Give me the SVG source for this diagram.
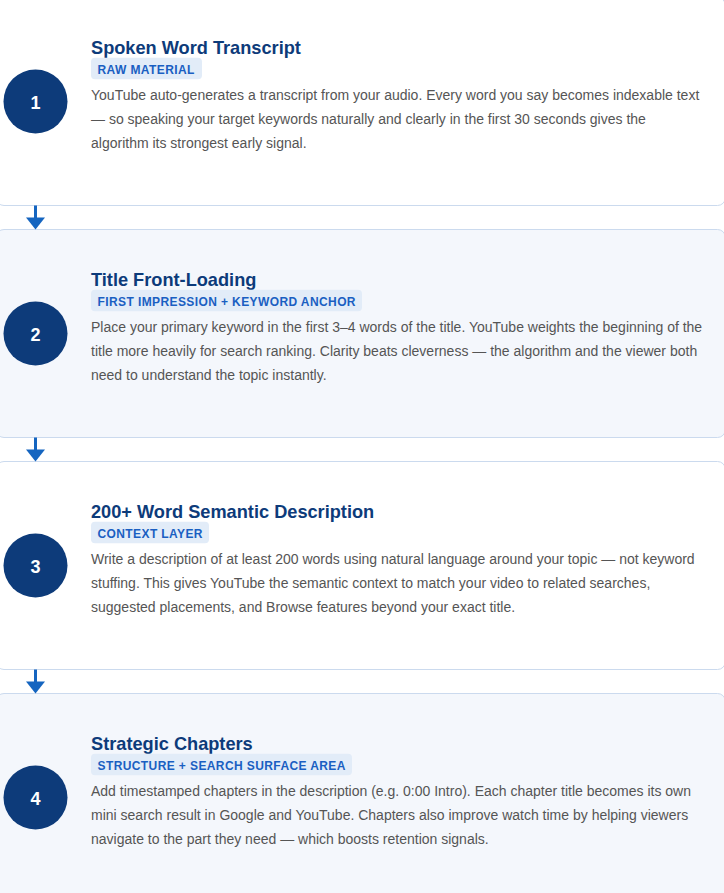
<svg xmlns="http://www.w3.org/2000/svg" width="724" height="893" viewBox="0 0 724 893">
<style>
.card{stroke:#cbdaee;stroke-width:1}
.w{fill:#ffffff}
.t{fill:#f4f7fc}
.circ{fill:#0d3b7a}
.num{font-family:"Liberation Sans",Arial,Helvetica,sans-serif;font-size:18px;font-weight:bold;fill:#ffffff;text-anchor:middle}
.title{font-family:"Liberation Sans",Arial,Helvetica,sans-serif;font-size:18.2px;font-weight:bold;fill:#0d3b7a}
.badge{fill:#e2ecf8}
.btxt{font-family:"Liberation Sans",Arial,Helvetica,sans-serif;font-size:12px;font-weight:bold;fill:#1a5fc2;letter-spacing:0.4px}
.body{font-family:"Liberation Sans",Arial,Helvetica,sans-serif;font-size:14px;fill:#555555}
.stem{stroke:#1565c0;stroke-width:3}
.head{fill:#1565c0}
</style>
<rect x="0" y="0" width="724" height="893" fill="#ffffff"/>
<g id="node1" transform="translate(0,-2.5)">
<rect class="card w" x="-4" y="0" width="729.5" height="208" rx="8"/>
<circle class="circ" cx="35.5" cy="104" r="32"/>
<text class="num" x="35.5" y="111">1</text>
<text class="title" x="91" y="56.5">Spoken Word Transcript</text>
<rect class="badge" x="91" y="60.2" width="111" height="21.6" rx="4"/>
<text class="btxt" x="97.5" y="76">RAW MATERIAL</text>
<text class="body" x="91" y="102.5">YouTube auto-generates a transcript from your audio. Every word you say becomes indexable text</text>
<text class="body" x="91" y="126.5">— so speaking your target keywords naturally and clearly in the first 30 seconds gives the</text>
<text class="body" x="91" y="150.5">algorithm its strongest early signal.</text>
</g>
<g id="node2" transform="translate(0,229.5)">
<rect class="card t" x="-4" y="0" width="729.5" height="208" rx="8"/>
<circle class="circ" cx="35.5" cy="104" r="32"/>
<text class="num" x="35.5" y="111">2</text>
<text class="title" x="91" y="56.5">Title Front-Loading</text>
<rect class="badge" x="91" y="60.2" width="271" height="21.6" rx="4"/>
<text class="btxt" x="97.5" y="76">FIRST IMPRESSION + KEYWORD ANCHOR</text>
<text class="body" x="91" y="102.5">Place your primary keyword in the first 3–4 words of the title. YouTube weights the beginning of the</text>
<text class="body" x="91" y="126.5">title more heavily for search ranking. Clarity beats cleverness — the algorithm and the viewer both</text>
<text class="body" x="91" y="150.5">need to understand the topic instantly.</text>
</g>
<g id="node3" transform="translate(0,461.5)">
<rect class="card w" x="-4" y="0" width="729.5" height="208" rx="8"/>
<circle class="circ" cx="35.5" cy="104" r="32"/>
<text class="num" x="35.5" y="111">3</text>
<text class="title" x="91" y="56.5">200+ Word Semantic Description</text>
<rect class="badge" x="91" y="60.2" width="118" height="21.6" rx="4"/>
<text class="btxt" x="97.5" y="76">CONTEXT LAYER</text>
<text class="body" x="91" y="102.5">Write a description of at least 200 words using natural language around your topic — not keyword</text>
<text class="body" x="91" y="126.5">stuffing. This gives YouTube the semantic context to match your video to related searches,</text>
<text class="body" x="91" y="150.5">suggested placements, and Browse features beyond your exact title.</text>
</g>
<g id="node4" transform="translate(0,693.5)">
<rect class="card t" x="-4" y="0" width="729.5" height="208" rx="8"/>
<circle class="circ" cx="35.5" cy="104" r="32"/>
<text class="num" x="35.5" y="111">4</text>
<text class="title" x="91" y="56.5">Strategic Chapters</text>
<rect class="badge" x="91" y="60.2" width="261" height="21.6" rx="4"/>
<text class="btxt" x="97.5" y="76">STRUCTURE + SEARCH SURFACE AREA</text>
<text class="body" x="91" y="102.5">Add timestamped chapters in the description (e.g. 0:00 Intro). Each chapter title becomes its own</text>
<text class="body" x="91" y="126.5">mini search result in Google and YouTube. Chapters also improve watch time by helping viewers</text>
<text class="body" x="91" y="150.5">navigate to the part they need — which boosts retention signals.</text>
</g>
<g id="connectors">
<line class="stem" x1="35.5" y1="205.5" x2="35.5" y2="220"/>
<polygon class="head" points="26,217.5 45,217.5 35.5,229.5"/>
<line class="stem" x1="35.5" y1="437.5" x2="35.5" y2="452"/>
<polygon class="head" points="26,449.5 45,449.5 35.5,461.5"/>
<line class="stem" x1="35.5" y1="669.5" x2="35.5" y2="684"/>
<polygon class="head" points="26,681.5 45,681.5 35.5,693.5"/>
</g>
</svg>
